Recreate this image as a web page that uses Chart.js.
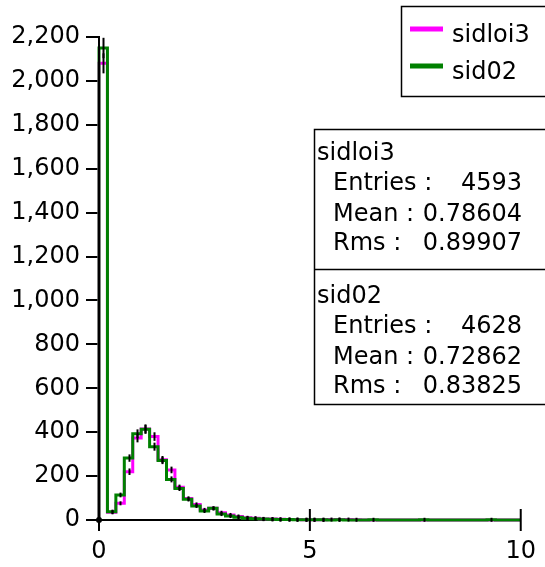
<!DOCTYPE html>
<html>
<head>
<meta charset="utf-8">
<script src="https://cdn.jsdelivr.net/npm/chart.js@4.4.1/dist/chart.umd.min.js"></script>
<style>
    html, body { margin: 0; padding: 0; background: #fff; }
</style>
</head>
<body>
<canvas id="chart-hist" width="545" height="567"></canvas>
<script>
// histogram settings, bins of 0.2 from 0 to 10
const binStart = 0;
const binWidth = 0.2;
const xTicks = [0, 5, 10];
const yMax = 2200;
const yStep = 200;

const seriesNames = ['sidloi3', 'sid02'];
const seriesColors = ['#ff00ff', '#008000'];

// counts per bin
const sidloi3Counts = [
    2080, 35, 76, 220, 373, 415, 380, 275, 228, 149,
    98, 71, 46, 53, 33, 23, 16, 10, 8, 5,
    4, 3, 2, 2, 1, 1, 1, 2, 2, 2,
    1, 0, 0, 0, 0, 0, 0, 0, 0, 0,
    0, 0, 0, 0, 0, 0, 0, 0, 0, 0
];
const sid02Counts = [
    2150, 38, 114, 282, 393, 413, 334, 271, 185, 144,
    94, 64, 41, 53, 27, 18, 12, 8, 6, 4,
    3, 2, 2, 1, 1, 1, 1, 0, 1, 0,
    0, 0, 1, 0, 0, 0, 0, 0, 1, 0,
    0, 0, 0, 0, 0, 0, 1, 0, 0, 0
];

// stats box
const statEntries = ['4593', '4628'];
const statMeans = ['0.78604', '0.72862'];
const statRms = ['0.89907', '0.83825'];

const FONT = '"DejaVu Sans", sans-serif';

function toSteps(counts) {
    const pts = [{ x: binStart, y: 0 }];
    counts.forEach((c, i) => pts.push({ x: binStart + i * binWidth, y: c }));
    const end = binStart + counts.length * binWidth;
    pts.push({ x: end, y: counts[counts.length - 1] });
    pts.push({ x: end, y: 0 });
    return pts;
}

const allCounts = [sidloi3Counts, sid02Counts];

const errorBars = {
    id: 'errorBars',
    afterDatasetsDraw(chart) {
        const { ctx, scales: { x, y } } = chart;
        ctx.save();
        ctx.strokeStyle = '#000';
        ctx.lineWidth = 2;
        allCounts.forEach(counts => {
            counts.forEach((n, i) => {
                if (!n) return;
                const px = Math.round(x.getPixelForValue(binStart + (i + 0.5) * binWidth)) + 0.5;
                const e = Math.sqrt(n);
                let top = y.getPixelForValue(n + e);
                let bot = y.getPixelForValue(Math.max(n - e, 0));
                if (bot - top < 4) {
                    const mid = y.getPixelForValue(n);
                    top = mid - 2;
                    bot = mid + 2;
                }
                ctx.beginPath();
                ctx.moveTo(px, top);
                ctx.lineTo(px, bot);
                ctx.stroke();
            });
        });
        ctx.restore();
    }
};

const axisExtras = {
    id: 'axisExtras',
    afterDraw(chart) {
        const { ctx, chartArea, scales: { x, y } } = chart;
        const y0 = y.getPixelForValue(0);
        ctx.save();
        ctx.strokeStyle = '#000';
        ctx.lineWidth = 2;
        // x ticks go through the axis
        xTicks.forEach(v => {
            const px = x.getPixelForValue(v);
            ctx.beginPath();
            ctx.moveTo(px, y0 - 11);
            ctx.lineTo(px, y0 + 11);
            ctx.stroke();
        });
        // y axis runs a bit below zero
        ctx.beginPath();
        ctx.moveTo(chartArea.left, chartArea.top);
        ctx.lineTo(chartArea.left, y0 + 10);
        ctx.stroke();
        ctx.fillStyle = '#000';
        ctx.beginPath();
        ctx.arc(x.getPixelForValue(0), y0, 3, 0, Math.PI * 2);
        ctx.fill();
        ctx.restore();
    }
};

const boxes = {
    id: 'boxes',
    afterDraw(chart) {
        const ctx = chart.ctx;
        ctx.save();
        ctx.font = '24px ' + FONT;
        ctx.textBaseline = 'alphabetic';

        // legend
        ctx.fillStyle = '#fff';
        ctx.fillRect(402, 7, 150, 90);
        ctx.strokeStyle = '#000';
        ctx.lineWidth = 1.5;
        ctx.strokeRect(401.5, 6.5, 160, 90);
        seriesNames.forEach((name, i) => {
            const ly = 29 + i * 37;
            ctx.strokeStyle = seriesColors[i];
            ctx.lineWidth = 5;
            ctx.beginPath();
            ctx.moveTo(410, ly);
            ctx.lineTo(443, ly);
            ctx.stroke();
            ctx.fillStyle = '#000';
            ctx.textAlign = 'left';
            ctx.fillText(name, 452, ly + 13);
        });

        // stats
        ctx.fillStyle = '#fff';
        ctx.fillRect(315, 130, 240, 275);
        ctx.strokeStyle = '#000';
        ctx.lineWidth = 1.5;
        ctx.strokeRect(314.5, 129.5, 250, 275);
        ctx.beginPath();
        ctx.moveTo(314.5, 269.5);
        ctx.lineTo(545, 269.5);
        ctx.stroke();
        seriesNames.forEach((name, i) => {
            const top = 160 + i * 143;
            ctx.fillStyle = '#000';
            ctx.textAlign = 'left';
            ctx.fillText(name, 317, top);
            ctx.fillText('Entries :', 333, top + 30);
            ctx.fillText('Mean :', 333, top + 61);
            ctx.fillText('Rms :', 333, top + 90);
            ctx.textAlign = 'right';
            ctx.fillText(statEntries[i], 522, top + 30);
            ctx.fillText(statMeans[i], 522, top + 61);
            ctx.fillText(statRms[i], 522, top + 90);
        });
        ctx.restore();
    }
};

const chart = new Chart(
    document.getElementById('chart-hist'),
    {
        type: 'line',
        data: {
            datasets: [
                {
                    label: seriesNames[0],
                    data: toSteps(sidloi3Counts),
                    borderColor: seriesColors[0],
                    borderWidth: 3,
                    stepped: 'before',
                    pointRadius: 0,
                    fill: false,
                    clip: 6,
                    order: 2
                },
                {
                    label: seriesNames[1],
                    data: toSteps(sid02Counts),
                    borderColor: seriesColors[1],
                    borderWidth: 3,
                    stepped: 'before',
                    pointRadius: 0,
                    fill: false,
                    clip: 6,
                    order: 1
                }
            ]
        },
        options: {
            responsive: false,
            animation: false,
            devicePixelRatio: 1,
            layout: {
                padding: { top: 37, right: 6, left: 0, bottom: 0 }
            },
            scales: {
                x: {
                    type: 'linear',
                    min: 0,
                    max: 10,
                    afterBuildTicks: scale => {
                        scale.ticks = xTicks.map(v => ({ value: v }));
                    },
                    afterFit: scale => { scale.height = 47; },
                    grid: { display: false },
                    border: { display: true, color: '#000', width: 2 },
                    ticks: {
                        color: '#000',
                        font: { family: FONT, size: 24 },
                        padding: 9,
                        maxRotation: 0
                    }
                },
                y: {
                    min: 0,
                    max: yMax,
                    afterFit: scale => { scale.width = 99; },
                    grid: {
                        drawOnChartArea: false,
                        drawTicks: true,
                        tickLength: 13,
                        color: '#000',
                        lineWidth: 2
                    },
                    border: { display: true, color: '#000', width: 2 },
                    ticks: {
                        stepSize: yStep,
                        color: '#000',
                        font: { family: FONT, size: 24 },
                        padding: 6
                    }
                }
            },
            plugins: {
                legend: { display: false },
                tooltip: { enabled: false }
            }
        },
        plugins: [errorBars, axisExtras, boxes]
    }
);
</script>
</body>
</html>
